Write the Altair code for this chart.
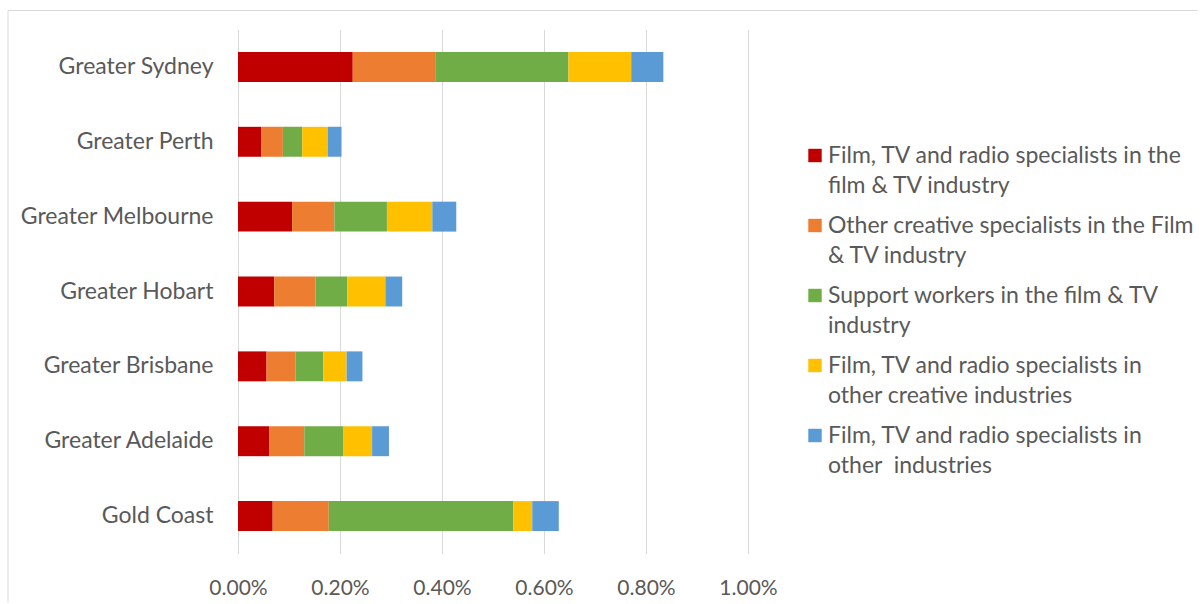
import altair as alt
import pandas as pd

regions = ["Greater Sydney", "Greater Perth", "Greater Melbourne", "Greater Hobart",
           "Greater Brisbane", "Greater Adelaide", "Gold Coast"]

series = [
    "Film, TV and radio specialists in the film & TV industry",
    "Other creative specialists in the Film & TV industry",
    "Support workers in the film & TV industry",
    "Film, TV and radio specialists in other creative industries",
    "Film, TV and radio specialists in other  industries",
]
legend_labels = [
    "Film, TV and radio specialists in the\nfilm & TV industry",
    "Other creative specialists in the Film\n& TV industry",
    "Support workers in the film & TV\nindustry",
    "Film, TV and radio specialists in\nother creative industries",
    "Film, TV and radio specialists in\nother\u00a0 industries",
]
colors = ["#C00000", "#ED7D31", "#70AD47", "#FFC000", "#5B9BD5"]

# values in percent, one list per series, in region order
s1 = [0.225, 0.046, 0.106, 0.071, 0.056, 0.061, 0.068]
s2 = [0.163, 0.042, 0.083, 0.081, 0.057, 0.069, 0.110]
s3 = [0.260, 0.038, 0.103, 0.062, 0.054, 0.076, 0.362]
s4 = [0.123, 0.050, 0.089, 0.075, 0.046, 0.057, 0.037]
s5 = [0.063, 0.027, 0.047, 0.033, 0.031, 0.033, 0.052]
tick_values = [0.0, 0.002, 0.004, 0.006, 0.008, 0.010]

rows = []
for si, vals in enumerate([s1, s2, s3, s4, s5]):
    for r, v in zip(regions, vals):
        rows.append({"region": r, "series": series[si], "order": si, "value": v / 100.0})
df = pd.DataFrame(rows)

leg_df = pd.DataFrame({"series": series, "label": legend_labels})

FONT = "Lato"
GRAY = "#595959"
GRID = "#D9D9D9"

color_scale = alt.Scale(domain=series, range=colors)

bars = alt.Chart(df).mark_bar().encode(
    x=alt.X("value:Q", stack="zero",
            scale=alt.Scale(domain=[0, 0.01], nice=False),
            axis=alt.Axis(values=tick_values, format=".2%", title=None, grid=True,
                          gridColor=GRID, domain=False, ticks=False,
                          labelFontSize=21, labelColor=GRAY, labelFont=FONT,
                          labelFlush=False, labelPadding=24)),
    y=alt.Y("region:N", sort=regions,
            scale=alt.Scale(paddingInner=0.6, paddingOuter=0.3),
            axis=alt.Axis(title=None, domain=False, ticks=False, grid=False,
                          labelFontSize=23, labelColor=GRAY, labelFont=FONT,
                          labelLimit=400, labelPadding=25)),
    color=alt.Color("series:N", scale=color_scale, legend=None),
    order=alt.Order("order:Q"),
)

border_left = alt.Chart(pd.DataFrame({"a": [0]})).mark_rule(color=GRID, strokeWidth=1).encode(
    x=alt.value(-230), y=alt.value(-19), y2=alt.value(573)
)
border_top = alt.Chart(pd.DataFrame({"a": [0]})).mark_rule(color=GRID, strokeWidth=1).encode(
    x=alt.value(-230), x2=alt.value(960), y=alt.value(-19)
)

main = alt.layer(border_left, border_top, bars).properties(width=510, height=524)

leg_y = alt.Y("series:N", sort=series, axis=None,
              scale=alt.Scale(type="point", range=[126, 406], padding=0))

leg_sq = alt.Chart(leg_df).mark_square(size=180, opacity=1).encode(
    x=alt.value(7),
    y=leg_y,
    color=alt.Color("series:N", scale=color_scale, legend=None),
)
leg_tx = alt.Chart(leg_df).mark_text(
    align="left", baseline="alphabetic", dy=7, lineBreak="\n", lineHeight=30,
    fontSize=23, font=FONT, color=GRAY
).encode(
    x=alt.value(20),
    y=leg_y,
    text="label:N",
)
legend = alt.layer(leg_sq, leg_tx).properties(width=370, height=524)

chart = alt.hconcat(main, legend, spacing=60, bounds="flush").properties(
    padding={"left": 7, "top": 9.5, "right": 0, "bottom": 0},
    background="white",
).configure_view(stroke=None)

chart.save("out.html", embed_options={"renderer": "svg", "actions": False})
